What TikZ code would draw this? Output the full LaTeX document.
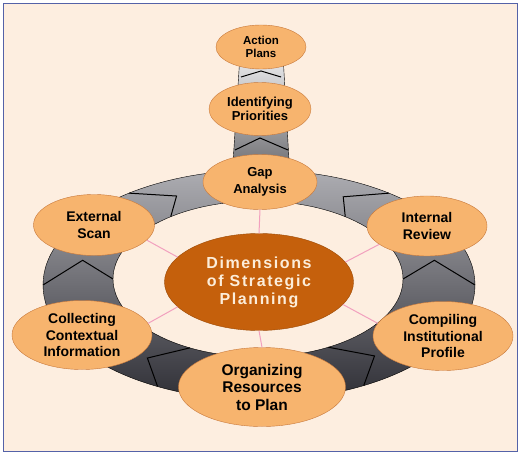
\documentclass[tikz,border=0pt]{standalone}
\usepackage{fontspec}
\setmainfont{Liberation Sans}
\usetikzlibrary{shapes.geometric}

\definecolor{bgpeach}{HTML}{FDEEE0}
\definecolor{frameblue}{HTML}{5462A8}
\definecolor{dimfill}{HTML}{F7B46E}
\definecolor{dimline}{HTML}{C8783A}
\definecolor{hubfill}{HTML}{C5600C}
\definecolor{hubline}{HTML}{9C4A06}
\definecolor{hubtext}{HTML}{FCEDDA}
\definecolor{spokepink}{HTML}{F2A0BE}
\definecolor{ringtop}{HTML}{ADADB2}
\definecolor{ringbot}{HTML}{2F2F36}
\definecolor{bandtop}{HTML}{EEEEF0}
\definecolor{bandbot}{HTML}{646468}

\begin{document}
\begin{tikzpicture}[x=1pt,y=-1pt,
	dim/.style={ellipse,draw=dimline,fill=dimfill,inner sep=0pt,align=center},
	hub/.style={ellipse,draw=hubline,fill=hubfill,text=hubtext,inner sep=0pt,align=center,
		font=\bfseries\fontsize{16}{18}\selectfont\addfontfeature{LetterSpace=10}},
	chev/.style={line width=1pt},
	spoke/.style={draw=spokepink,line width=1pt}]
	\useasboundingbox (0,0) rectangle (521,454);
	\draw[frameblue,line width=1.5pt,fill=bgpeach] (3.5,3.5) rectangle (517.5,451.5);
	
	% band going up and the ring
	\path[draw=black,top color=bandtop,bottom color=bandbot] (240,55) -- (283,55) -- (290,178) -- (232,178) -- cycle;
	\path[even odd rule,top color=ringtop,bottom color=ringbot]
		(259,285) ellipse [x radius=216,y radius=115] (258,279) ellipse [x radius=145,y radius=78];
	\draw (259,285) ellipse [x radius=216,y radius=115] (258,279) ellipse [x radius=145,y radius=78];
	\foreach \e/\t in {180/167,127/117,53/62,0/13,242/232,299/310}
		\draw[chev] ({259+216*cos(\e)},{285-115*sin(\e)}) -- ({258.5+180.5*cos(\t)},{282-96.5*sin(\t)})
			-- ({258+145*cos(\e)},{279-78*sin(\e)});
	\draw[chev] (241,77) -- (261,71) -- (281,77);
	\draw[chev] (235,150) -- (260,138) -- (288,150);
	
	\node[dim,minimum width=90pt,minimum height=44pt,font=\bfseries\fontsize{11.5}{12.7}\selectfont] (plans) at (261,47) {Action\\Plans};
	\node[dim,minimum width=102pt,minimum height=53pt,font=\bfseries\fontsize{13}{14.7}\selectfont] (prio) at (260,109) {Identifying\\Priorities};
	\node[dim,minimum width=114pt,minimum height=55pt,font=\bfseries\fontsize{13}{16.5}\selectfont] (gap) at (260,182) {Gap\\Analysis};
	\node[dim,minimum width=121pt,minimum height=61pt,font=\bfseries\fontsize{14}{17}\selectfont] (ext) at (94,225) {External\\Scan};
	\node[dim,minimum width=120pt,minimum height=60pt,font=\bfseries\fontsize{14}{17}\selectfont] (int) at (427,226) {Internal\\Review};
	\node[dim,minimum width=140pt,minimum height=69pt,font=\bfseries\fontsize{14}{16.3}\selectfont] (coll) at (82,335) {Collecting\\Contextual\\Information};
	\node[dim,minimum width=140pt,minimum height=69pt,font=\bfseries\fontsize{14}{16.7}\selectfont] (comp) at (443,336) {Compiling\\Institutional\\Profile};
	\node[dim,minimum width=167pt,minimum height=79pt,font=\bfseries\fontsize{15.5}{17.5}\selectfont] (org) at (262,387) {Organizing\\Resources\\to Plan};
	\node[hub,minimum width=189pt,minimum height=97pt] (hub) at (259,282) {Dimensions\\of Strategic\\Planning};
	
	\path[spoke]
	(hub.90) edge (gap.270)
	(hub.163) edge (ext.-16)
	(hub.13) edge (int.201)
	(hub.197) edge (coll.10)
	(hub.-15) edge (comp.169)
	(hub.270) edge (org.90);
\end{tikzpicture}
\end{document}
